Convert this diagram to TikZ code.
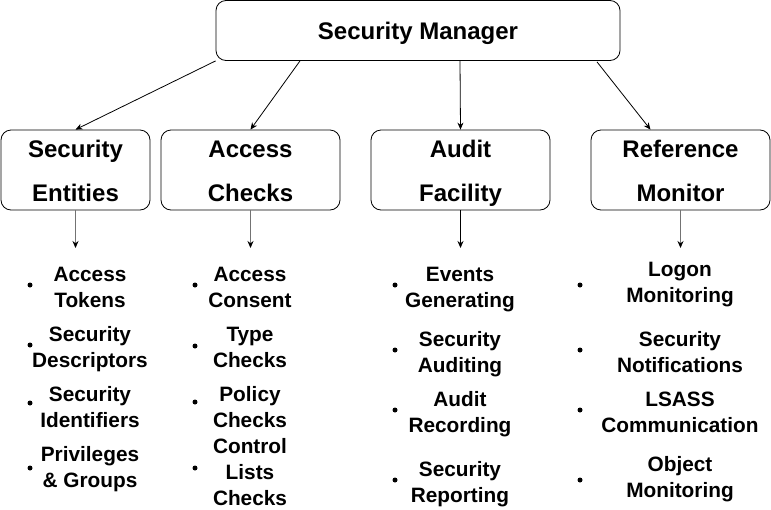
\documentclass[tikz,border=0pt]{standalone}
\usepackage{fontspec}
\setmainfont{Liberation Sans}
\usetikzlibrary{arrows.meta,calc}
\newcommand{\titlefont}{\fontsize{24}{44}\selectfont\bfseries}
\newcommand{\itemfont}{\fontsize{20.8}{26}\selectfont\bfseries}
\newcommand{\tA}{\rule{0pt}{24.3pt}}
\newcommand{\tB}{\rule[-5pt]{0pt}{5pt}}
\newcommand{\iA}{\rule{0pt}{15.2pt}}
\newcommand{\iB}{\rule[-4.4pt]{0pt}{4.4pt}}
\begin{document}
\begin{tikzpicture}[x=1pt,y=-1pt,
  box/.style={draw, rounded corners=10pt, line width=0.8pt, inner sep=0pt, align=center, font=\titlefont},
  item/.style={align=center, inner sep=0pt, font=\itemfont},
  dot/.style={circle, fill, inner sep=0pt, minimum size=5pt},
  arr/.style={-{Stealth[length=7pt,width=6pt,color=black]}, line width=0.8pt},
  garr/.style={arr, draw=black!55}]
\useasboundingbox (0,0) rectangle (771,509);
% boxes
\node[box, minimum width=404pt, minimum height=60pt] (top) at (418,30.5) {\rule{0pt}{23.1pt}Security Manager\tB};
\node[box, minimum width=149pt, minimum height=80pt] (se) at (75.5,170) {\tA Security\\Entities\tB};
\node[box, minimum width=179pt, minimum height=80pt] (ac) at (250.5,170) {\tA Access\\Checks\tB};
\node[box, minimum width=179pt, minimum height=80pt] (af) at (460.5,170) {\tA Audit\\Facility\tB};
\node[box, minimum width=179pt, minimum height=80pt] (rm) at (680.5,170) {\tA Reference\\Monitor\tB};
% top arrows
\draw[arr] (top.south west) -- (se.north);
\draw[arr] ([xshift=-118pt]top.south) -- (ac.north);
\draw[arr] ([xshift=42pt]top.south) -- (af.north);
\draw[arr] ([xshift=179pt,yshift=-1pt]top.south) -- ([xshift=-30pt]rm.north);
% down arrows
\coordinate (e1) at (75.5,248);
\coordinate (e2) at (250.5,248);
\coordinate (e3) at (460.5,248);
\coordinate (e4) at (680.5,248);
\draw[garr] (se.south) -- (e1);
\draw[garr] (ac.south) -- (e2);
\draw[arr] (af.south) -- (e3);
\draw[garr] (rm.south) -- (e4);
% column 1
\node[item] (i11) at (90,289) {\iA Access\\Tokens\iB};
\node[item] (i12) at (90,349) {\iA Security\\Descriptors\iB};
\node[item] (i13) at (90,409) {\iA Security\\Identifiers\iB};
\node[item] (i14) at (90,469) {\iA Privileges\\\& Groups\iB};
\node[dot] (d11) at (30,285) {};
\node[dot] (d12) at (30,345) {};
\node[dot] (d13) at (30,403) {};
\node[dot] (d14) at (30,468) {};
% column 2
\node[item] (i21) at (250,289) {\iA Access\\Consent\iB};
\node[item] (i22) at (250,349) {\iA Type\\Checks\iB};
\node[item] (i23) at (250,409) {\iA Policy\\Checks\iB};
\node[item] (i24) at (250,474) {\iA Control\\Lists\\Checks\iB};
\node[dot] (d21) at (195,285) {};
\node[dot] (d22) at (195,346) {};
\node[dot] (d23) at (195,402) {};
\node[dot] (d24) at (195,468) {};
% column 3
\node[item] (i31) at (460,289) {\iA Events\\Generating\iB};
\node[item] (i32) at (460,354) {\iA Security\\Auditing\iB};
\node[item] (i33) at (460,414) {\iA Audit\\Recording\iB};
\node[item] (i34) at (460,484) {\iA Security\\Reporting\iB};
\node[dot] (d31) at (395,285) {};
\node[dot] (d32) at (395,350) {};
\node[dot] (d33) at (395,410) {};
\node[dot] (d34) at (395,480) {};
% column 4
\node[item] (i41) at (680,284) {\iA Logon\\Monitoring\iB};
\node[item] (i42) at (680,354) {\iA Security\\Notifications\iB};
\node[item] (i43) at (680,414) {\iA LSASS\\Communication\iB};
\node[item] (i44) at (680,479) {\iA Object\\Monitoring\iB};
\node[dot] (d41) at (580,285) {};
\node[dot] (d42) at (580,350) {};
\node[dot] (d43) at (580,410) {};
\node[dot] (d44) at (580,480) {};
\end{tikzpicture}
\end{document}
